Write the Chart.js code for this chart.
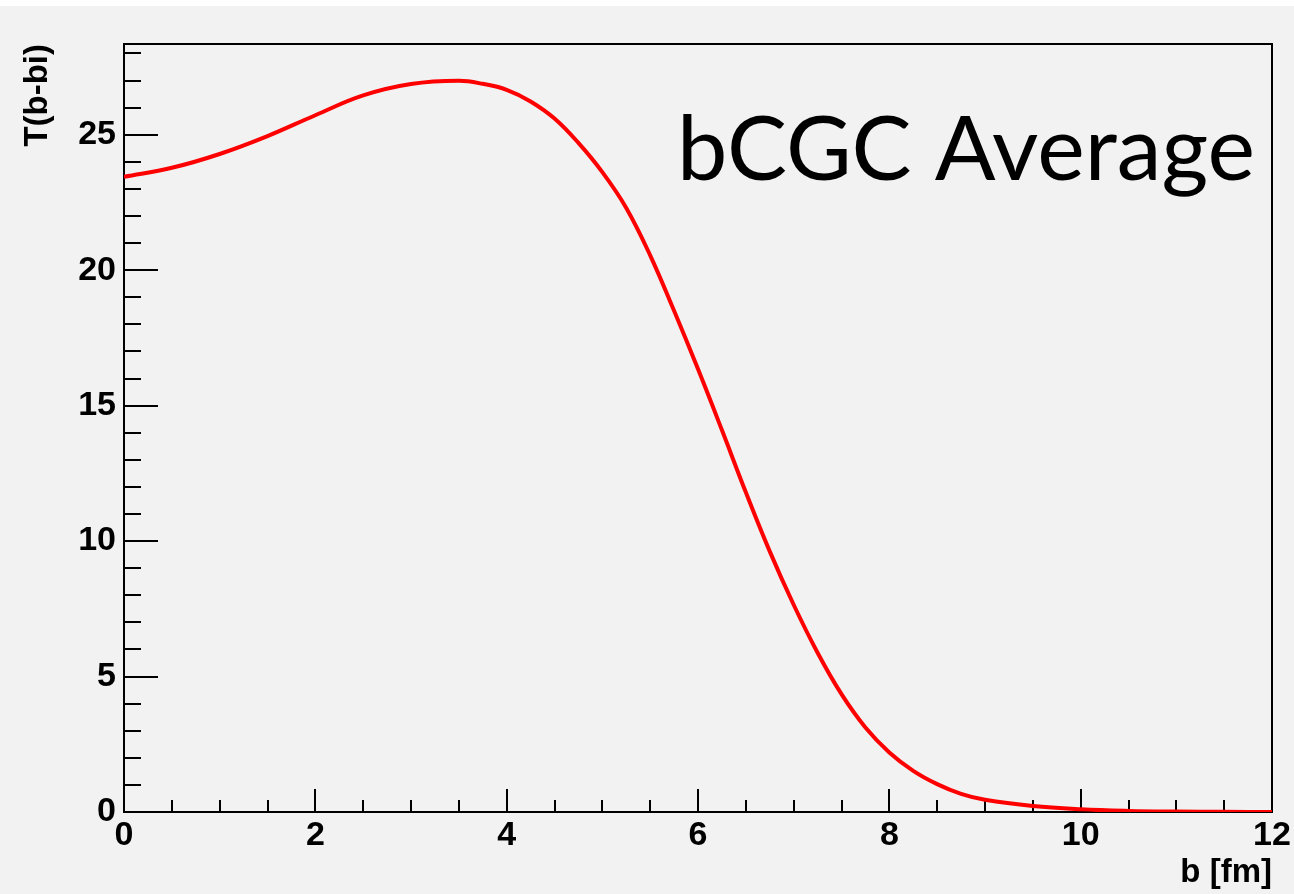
<!DOCTYPE html>
<html>
<head>
<meta charset="utf-8">
<script src="https://cdn.jsdelivr.net/npm/chart.js@4.4.1/dist/chart.umd.min.js"></script>
<style>
  html, body { margin: 0; padding: 0; background: #fff; }
</style>
</head>
<body>
<canvas id="myChart" width="1294" height="894"></canvas>
<script>
// data
const bValues = [0, 0.5, 1, 1.5, 2, 2.5, 3, 3.5, 3.75, 4, 4.25, 4.5, 4.75, 5, 5.25, 5.5, 5.75,
  6, 6.25, 6.5, 6.75, 7, 7.25, 7.5, 7.75, 8, 8.25, 8.5, 8.75, 9, 9.5, 10, 10.5, 11, 11.5, 12];
const tValues = [23.45, 23.78, 24.29, 24.95, 25.72, 26.45, 26.87, 26.99, 26.88, 26.66, 26.23, 25.6, 24.7,
  23.62, 22.3, 20.55, 18.5, 16.35, 14.1, 11.8, 9.62, 7.65, 5.88, 4.35, 3.12, 2.2, 1.52, 1.03, 0.67,
  0.45, 0.22, 0.10, 0.04, 0.015, 0.005, 0];
const xMajorTicks = [0, 2, 4, 6, 8, 10, 12];
const yMajorTicks = [0, 5, 10, 15, 20, 25];
const xMinorStep = 0.5;
const yMinorStep = 1;
const xRange = [0, 12];
const yRange = [0, 28.35];

const xTitle = 'b [fm]';
const yTitle = 'T(b-bi)';
const plotLabel = 'bCGC Average';

const tickFont = { family: '"Liberation Sans", Arial, sans-serif', size: 34, weight: 'bold' };

const points = bValues.map((b, i) => ({ x: b, y: tValues[i] }));

// grey pad with a thin white strip on top, like the screenshot
const background = {
  id: 'background',
  beforeDraw(chart) {
    const { ctx, width, height } = chart;
    ctx.save();
    ctx.fillStyle = '#ffffff';
    ctx.fillRect(0, 0, width, height);
    ctx.fillStyle = '#f2f2f2';
    ctx.fillRect(0, 6, width, height - 6);
    ctx.restore();
  },
};

// ROOT style frame: box plus ticks pointing into the plot
const rootFrame = {
  id: 'rootFrame',
  beforeDatasetsDraw(chart) {
    const { ctx, chartArea: a, scales: { x, y } } = chart;
    ctx.save();
    ctx.strokeStyle = '#000';
    ctx.lineWidth = 2;
    ctx.strokeRect(a.left, a.top, a.right - a.left, a.bottom - a.top);
    ctx.beginPath();
    for (let v = yRange[0]; v <= yRange[1]; v += yMinorStep) {
      const py = Math.round(y.getPixelForValue(v));
      const len = yMajorTicks.includes(v) ? 34 : 17;
      ctx.moveTo(a.left, py);
      ctx.lineTo(a.left + len, py);
    }
    for (let v = xRange[0]; v <= xRange[1]; v += xMinorStep) {
      const px = Math.round(x.getPixelForValue(v));
      const len = xMajorTicks.includes(v) ? 23 : 12;
      ctx.moveTo(px, a.bottom);
      ctx.lineTo(px, a.bottom - len);
    }
    ctx.stroke();
    ctx.restore();
  },
};

const texts = {
  id: 'texts',
  afterDraw(chart) {
    const { ctx, chartArea: a } = chart;
    ctx.save();
    ctx.fillStyle = '#000';
    ctx.font = 'bold 33px "Liberation Sans", Arial, sans-serif';

    // x title, right aligned under the axis
    ctx.textAlign = 'right';
    ctx.textBaseline = 'alphabetic';
    ctx.fillText(xTitle, a.right, 882);

    // y title, rotated, ending at the top of the frame
    ctx.save();
    ctx.translate(38, a.top);
    ctx.rotate(-Math.PI / 2);
    ctx.textAlign = 'right';
    ctx.textBaseline = 'middle';
    ctx.fillText(yTitle, 0, 0);
    ctx.restore();

    // big label in the upper right
    ctx.font = '100px Lato, "Open Sans", sans-serif';
    const w = ctx.measureText(plotLabel).width;
    const size = 100 * 578 / w;
    ctx.font = size + 'px Lato, "Open Sans", sans-serif';
    ctx.textAlign = 'left';
    ctx.textBaseline = 'alphabetic';
    ctx.fillText(plotLabel, 677, 180);
    ctx.restore();
  },
};

const config = {
  type: 'scatter',
  data: {
    datasets: [
      {
        label: yTitle,
        data: points,
        showLine: true,
        borderColor: '#ff0000',
        borderWidth: 4,
        pointRadius: 0,
        tension: 0.4,
        fill: false,
      },
    ],
  },
  options: {
    responsive: false,
    animation: false,
    devicePixelRatio: 1,
    layout: { padding: { top: 44, right: 22, left: 0, bottom: 0 } },
    plugins: {
      legend: { display: false },
      tooltip: { enabled: false },
    },
    scales: {
      x: {
        type: 'linear',
        min: xRange[0],
        max: xRange[1],
        grid: { display: false, drawTicks: false },
        border: { display: false },
        ticks: {
          stepSize: 2,
          font: tickFont,
          color: '#000',
          padding: 3,
          maxRotation: 0,
          autoSkip: false,
        },
        afterBuildTicks: (s) => { s.ticks = xMajorTicks.map((v) => ({ value: v })); },
        afterFit: (s) => { s.height = 894 - 812; },
      },
      y: {
        type: 'linear',
        min: yRange[0],
        max: yRange[1],
        grid: { display: false, drawTicks: false },
        border: { display: false },
        ticks: {
          stepSize: 5,
          font: tickFont,
          color: '#000',
          padding: 8,
        },
        afterBuildTicks: (s) => { s.ticks = yMajorTicks.map((v) => ({ value: v })); },
        afterFit: (s) => { s.width = 124; },
      },
    },
  },
  plugins: [background, rootFrame, texts],
};

const myChart = new Chart(document.getElementById('myChart'), config);
</script>
</body>
</html>
